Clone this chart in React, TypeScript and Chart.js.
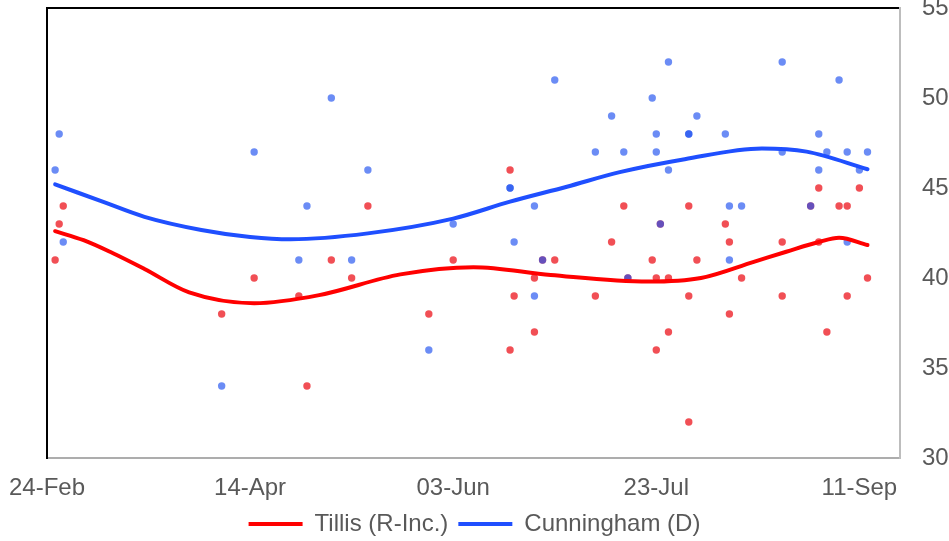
import React, { useEffect, useRef } from "react";
import { Chart, registerables } from "chart.js";

Chart.register(...registerables);

// Days since 24-Feb-2020
const TICK_DAYS = [0, 50, 100, 150, 200];
const TICK_LABELS = ["24-Feb", "14-Apr", "03-Jun", "23-Jul", "11-Sep"];
const Y_TICKS = [30, 35, 40, 45, 50, 55];

const TILLIS_DAYS = [2, 3, 4, 43, 51, 62, 64, 70, 75, 79, 94, 100, 114, 114, 115, 120, 120, 122, 125, 135, 139, 142, 143, 149, 150, 150, 151, 153, 153, 158, 158, 158, 160, 167, 168, 168, 171, 181, 181, 188, 190, 190, 192, 195, 197, 197, 200, 202];
const TILLIS_VALUES = [41, 43, 44, 38, 40, 39, 34, 41, 40, 44, 38, 41, 46, 36, 39, 40, 37, 41, 41, 39, 42, 44, 40, 41, 40, 36, 43, 40, 37, 44, 39, 32, 41, 43, 42, 38, 40, 42, 39, 44, 45, 42, 37, 44, 44, 39, 45, 40];

const CUNNINGHAM_DAYS = [2, 3, 4, 43, 51, 62, 64, 70, 75, 79, 94, 100, 114, 114, 115, 120, 120, 122, 125, 135, 139, 142, 143, 149, 150, 150, 151, 153, 153, 158, 158, 160, 167, 168, 168, 171, 181, 181, 188, 190, 190, 192, 195, 197, 197, 200, 202];
const CUNNINGHAM_VALUES = [46, 48, 42, 34, 47, 41, 44, 50, 41, 46, 36, 43, 45, 45, 42, 44, 39, 41, 51, 47, 49, 47, 40, 50, 48, 47, 43, 52, 46, 48, 48, 49, 48, 44, 41, 44, 52, 47, 44, 48, 46, 47, 51, 47, 42, 46, 47];

// Trend curves
const TILLIS_TREND_DAYS = [2, 9, 16, 24, 35, 51, 67, 87, 105, 124, 148, 161, 174, 182, 190, 195, 202];
const TILLIS_TREND_VALUES = [42.6, 42.1, 41.4, 40.5, 39.2, 38.6, 39.05, 40.2, 40.6, 40.17, 39.8, 40.0, 40.9, 41.46, 42.0, 42.24, 41.83];

const CUNNINGHAM_TREND_DAYS = [2, 13, 24, 38, 50, 60, 79, 100, 114, 128, 141, 157, 176, 187, 202];
const CUNNINGHAM_TREND_VALUES = [45.2, 44.3, 43.4, 42.67, 42.28, 42.15, 42.48, 43.3, 44.24, 45.07, 45.88, 46.6, 47.2, 47.02, 46.04];

const toPoints = (xs: number[], ys: number[]) => xs.map((x, i) => ({ x, y: ys[i] }));

const FONT = "'Liberation Sans', Arial, sans-serif";
const TEXT = "#595959";

const noPad = (s: any) => {
  s.paddingTop = 0;
  s.paddingBottom = 0;
  s.paddingLeft = 0;
  s.paddingRight = 0;
};

export default function App() {
  const ref = useRef<HTMLCanvasElement | null>(null);

  useEffect(() => {
    if (!ref.current) return;
    const chart = new Chart(ref.current, {
      type: "scatter",
      data: {
        datasets: [
          {
            label: "Tillis (R-Inc.)",
            data: toPoints(TILLIS_TREND_DAYS, TILLIS_TREND_VALUES),
            showLine: true,
            borderColor: "#FF0000",
            backgroundColor: "#FF0000",
            borderWidth: 4,
            pointRadius: 0,
            tension: 0.4,
            cubicInterpolationMode: "monotone",
            borderCapStyle: "round",
            borderJoinStyle: "round",
            xAxisID: "x",
            yAxisID: "y",
          },
          {
            label: "Cunningham (D)",
            data: toPoints(CUNNINGHAM_TREND_DAYS, CUNNINGHAM_TREND_VALUES),
            showLine: true,
            borderColor: "#1F4FFF",
            backgroundColor: "#1F4FFF",
            borderWidth: 4,
            pointRadius: 0,
            tension: 0.4,
            cubicInterpolationMode: "monotone",
            borderCapStyle: "round",
            borderJoinStyle: "round",
            xAxisID: "x",
            yAxisID: "y",
          },
          {
            label: "Cunningham polls",
            data: toPoints(CUNNINGHAM_DAYS, CUNNINGHAM_VALUES),
            showLine: false,
            backgroundColor: "rgba(30,80,240,0.66)",
            borderWidth: 0,
            pointRadius: 3.7,
            xAxisID: "x",
            yAxisID: "y",
          },
          {
            label: "Tillis polls",
            data: toPoints(TILLIS_DAYS, TILLIS_VALUES),
            showLine: false,
            backgroundColor: "rgba(236,24,32,0.76)",
            borderWidth: 0,
            pointRadius: 3.7,
            xAxisID: "x",
            yAxisID: "y",
          },
        ],
      },
      options: {
        animation: false,
        responsive: false,
        maintainAspectRatio: false,
        layout: { padding: { top: 0, left: 0, right: 0, bottom: -5 } },
        plugins: {
          tooltip: { enabled: false },
          legend: {
            position: "bottom",
            labels: {
              font: { family: FONT, size: 24 },
              color: TEXT,
              boxWidth: 54,
              boxHeight: 4,
              padding: 10,
              generateLabels: (c: any) =>
                c.data.datasets.slice(0, 2).map((d: any, i: number) => ({
                  text: d.label,
                  fillStyle: d.borderColor,
                  strokeStyle: d.borderColor,
                  lineWidth: 0,
                  hidden: false,
                  datasetIndex: i,
                  fontColor: TEXT,
                })),
            },
          },
        },
        scales: {
          x: {
            type: "linear",
            position: "bottom",
            min: 0,
            max: 210,
            afterBuildTicks: (s: any) => {
              s.ticks = TICK_DAYS.map((v) => ({ value: v }));
            },
            afterFit: (s: any) => {
              s.height = 44;
              noPad(s);
            },
            grid: { display: false, drawTicks: false, tickLength: 0 },
            border: { display: true, color: "#ADADAD", width: 2 },
            ticks: {
              autoSkip: false,
              maxRotation: 0,
              padding: 16,
              color: TEXT,
              font: { family: FONT, size: 24 },
              callback: (v: any) => {
                const i = TICK_DAYS.indexOf(Number(v));
                return i >= 0 ? TICK_LABELS[i] : "";
              },
            },
          },
          xTop: {
            type: "linear",
            position: "top",
            display: true,
            afterFit: (s: any) => {
              s.height = 8;
              noPad(s);
            },
            grid: { display: false, drawTicks: false },
            border: { display: true, color: "#000000", width: 2 },
            ticks: { display: false },
          },
          yLeft: {
            type: "linear",
            position: "left",
            display: true,
            afterFit: (s: any) => {
              s.width = 47;
              noPad(s);
            },
            grid: { display: false, drawTicks: false },
            border: { display: true, color: "#000000", width: 2 },
            ticks: { display: false },
          },
          y: {
            type: "linear",
            position: "right",
            min: 30,
            max: 55,
            afterBuildTicks: (s: any) => {
              s.ticks = Y_TICKS.map((v) => ({ value: v }));
            },
            afterFit: (s: any) => {
              s.width = 49;
              noPad(s);
            },
            grid: { display: false, drawTicks: false, tickLength: 0 },
            border: { display: true, color: "#BDBDBD", width: 2 },
            ticks: {
              padding: 22,
              color: TEXT,
              font: { family: FONT, size: 24 },
            },
          },
        },
      },
    } as any);
    return () => chart.destroy();
  }, []);

  return (
    <div style={{ position: "absolute", left: 0, top: 0, width: 949, height: 541, background: "#fff" }}>
      <canvas ref={ref} width={949} height={541} style={{ width: 949, height: 541 }} />
    </div>
  );
}
